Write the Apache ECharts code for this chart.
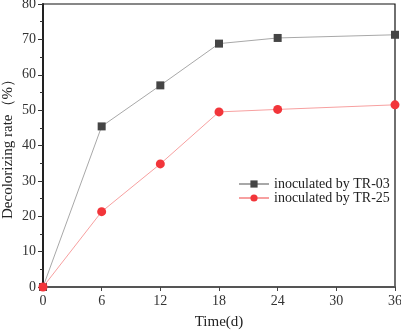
<!DOCTYPE html>
<html>
<head>
<meta charset="utf-8">
<script src="https://cdn.jsdelivr.net/npm/echarts@6/dist/echarts.min.js"></script>
<style>
  html, body { margin: 0; padding: 0; background: #fff; }
  #chart { width: 401px; height: 330px; }
</style>
</head>
<body>
<div id="chart"></div>
<script>
// time points (days)
var days = [0, 6, 12, 18, 24, 36];
// decolorizing rate (%)
var tr03 = [0, 45.4, 57.0, 68.8, 70.4, 71.3];
var tr25 = [0, 21.3, 34.8, 49.5, 50.2, 51.5];
var seriesNames = ['inoculated by TR-03', 'inoculated by TR-25'];

function pairs(xs, ys) {
    return xs.map(function (x, i) { return [x, ys[i]]; });
}

var font = 'Liberation Serif';
var chart = echarts.init(document.getElementById('chart'));
var option = {
    animation: false,
    textStyle: { fontFamily: font },
    grid: {
        left: 43,
        right: 6,
        top: 4,
        bottom: 43,
        outerBoundsMode: 'none',
        containLabel: false,
        show: true,
        borderColor: '#111',
        borderWidth: 1.2
    },
    legend: {
        left: 238,
        top: 177,
        padding: 0,
        orient: 'vertical',
        itemWidth: 30,
        itemHeight: 9,
        itemGap: 0,
        textStyle: { fontFamily: font, fontSize: 14, color: '#222' },
        data: seriesNames
    },
    xAxis: {
        type: 'value',
        min: 0,
        max: 36,
        interval: 6,
        name: 'Time(d)',
        nameLocation: 'middle',
        nameGap: 28,
        nameMoveOverlap: false,
        nameTextStyle: { fontFamily: font, fontSize: 15, color: '#222' },
        axisLine: { lineStyle: { color: '#555', width: 2 } },
        axisTick: { inside: false, length: 4, lineStyle: { color: '#444', width: 1 } },
        axisLabel: { fontFamily: font, fontSize: 14, color: '#333', margin: 7 },
        splitLine: { show: false }
    },
    yAxis: {
        type: 'value',
        min: 0,
        max: 80,
        interval: 10,
        name: 'Decolorizing rate（%）',
        nameLocation: 'middle',
        nameGap: 27,
        nameMoveOverlap: false,
        nameTextStyle: { fontFamily: font, fontSize: 15, color: '#222' },
        axisLine: { show: true, lineStyle: { color: '#222', width: 2 } },
        axisTick: { show: true, inside: false, length: 5, lineStyle: { color: '#333', width: 1 } },
        minorTick: { show: true, splitNumber: 2, length: 3, lineStyle: { color: '#333', width: 1 } },
        axisLabel: { fontFamily: font, fontSize: 14, color: '#333', margin: 7 },
        splitLine: { show: false }
    },
    series: [
        {
            name: seriesNames[0],
            type: 'line',
            data: pairs(days, tr03),
            symbol: 'rect',
            symbolSize: 8,
            lineStyle: { color: '#a8a8a8', width: 1 },
            itemStyle: { color: '#454545' },
            z: 3
        },
        {
            name: seriesNames[1],
            type: 'line',
            data: pairs(days, tr25),
            symbol: 'circle',
            symbolSize: 9,
            lineStyle: { color: '#f7a0a0', width: 1 },
            itemStyle: { color: '#f2353a' },
            z: 4
        }
    ]
};
chart.setOption(option);
</script>
</body>
</html>
